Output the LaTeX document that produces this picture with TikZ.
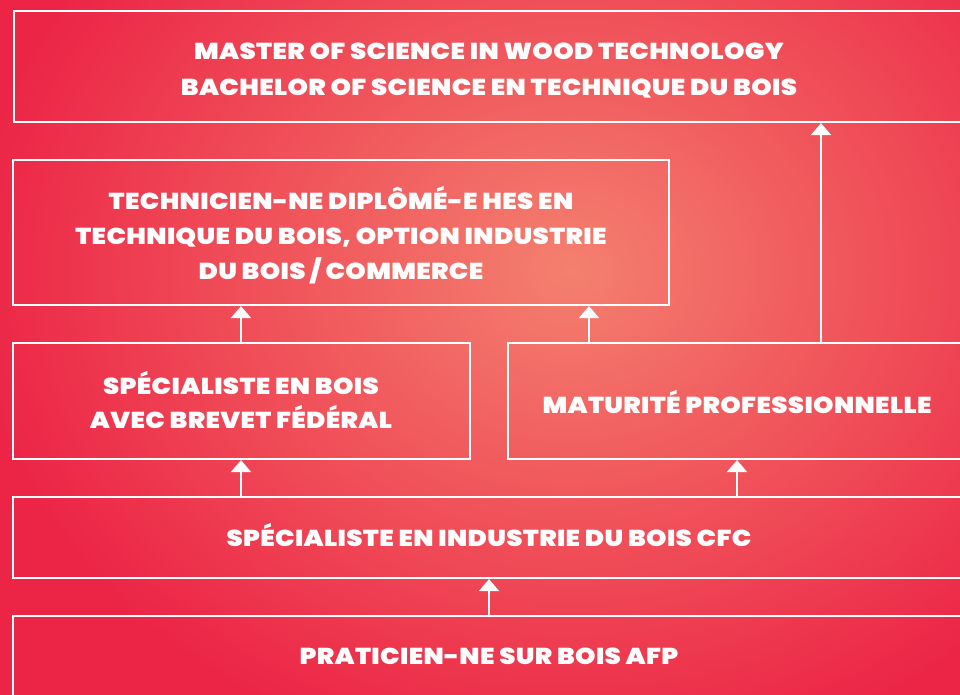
\documentclass[tikz,border=0pt]{standalone}
\usepackage{fontspec}
\IfFontExistsTF{Poppins Black}{%
  \setmainfont{Poppins}[BoldFont={Poppins Black}]}{%
  \IfFontExistsTF{Poppins ExtraBold}{%
    \setmainfont{Poppins}[BoldFont={Poppins ExtraBold}]}{%
    \setmainfont{Poppins}}}
\usetikzlibrary{arrows.meta}
\definecolor{bgin}{HTML}{F4806F}
\definecolor{bgout}{HTML}{EC2546}
\begin{document}
\begin{tikzpicture}[x=1pt,y=-1pt,
  box/.style={draw=white, line width=2.2pt, inner sep=0pt, rectangle},
  lbl/.style={text=white, font=\fontsize{23}{35}\selectfont\bfseries\addfontfeature{FakeStretch=1.13,LetterSpace=1.5}, align=center, inner sep=0pt},
  arr/.style={draw=white, line width=2.2pt, -{Triangle[width=20pt,length=12pt]}}]
\useasboundingbox (0,0) rectangle (960,694);
\begin{scope}
  \clip (0,0) rectangle (960,694);
  \shade[inner color=bgin, outer color=bgout] (-30,-230) rectangle (1170,770);
\end{scope}
% boxes
\node[box, minimum width=956pt, minimum height=111pt] (top) at (492,66.5) {};
\node[box, minimum width=656pt, minimum height=145pt] (b2) at (341,232.5) {};
\node[box, minimum width=457pt, minimum height=116pt] (b3a) at (241.5,401) {};
\node[box, minimum width=462pt, minimum height=116pt] (b3b) at (739,401) {};
\node[box, minimum width=957pt, minimum height=81pt] (b4) at (491.5,537.5) {};
\node[box, minimum width=957pt, minimum height=104pt] (b5) at (491.5,668) {};
% labels
\node[lbl, font=\fontsize{23}{36}\selectfont\bfseries\addfontfeature{FakeStretch=1.13,LetterSpace=1.5}] (t1) at (489,71) {MASTER OF SCIENCE IN WOOD TECHNOLOGY\\BACHELOR OF SCIENCE EN TECHNIQUE DU BOIS};
\node[lbl] (t2) at (341,235) {TECHNICIEN-NE DIPLÔMÉ-E HES EN\\TECHNIQUE DU BOIS, OPTION INDUSTRIE\\DU BOIS / COMMERCE};
\node[lbl, font=\fontsize{23}{34}\selectfont\bfseries\addfontfeature{FakeStretch=1.13,LetterSpace=1.5}] (t3a) at (241,400) {SPÉCIALISTE EN BOIS\\AVEC BREVET FÉDÉRAL};
\node[lbl] (t3b) at (737,402) {MATURITÉ PROFESSIONNELLE};
\node[lbl] (t4) at (489,535) {SPÉCIALISTE EN INDUSTRIE DU BOIS CFC};
\node[lbl] (t5) at (489,656) {PRATICIEN-NE SUR BOIS AFP};
% arrows
\draw[arr] ([xshift=-0.5pt]b3a.north) -- ([xshift=-0.5pt]b3a.north |- b2.south);
\draw[arr] ([xshift=-150pt]b3b.north) -- ([xshift=-150pt]b3b.north |- b2.south);
\draw[arr] ([xshift=82pt]b3b.north) -- ([xshift=82pt]b3b.north |- top.south);
\draw[arr] ([xshift=-0.5pt]b3a.south |- b4.north) -- ([xshift=-0.5pt]b3a.south);
\draw[arr] ([xshift=-2pt]b3b.south |- b4.north) -- ([xshift=-2pt]b3b.south);
\draw[arr] ([xshift=-2.5pt]b5.north) -- ([xshift=-2.5pt]b5.north |- b4.south);
\end{tikzpicture}
\end{document}
